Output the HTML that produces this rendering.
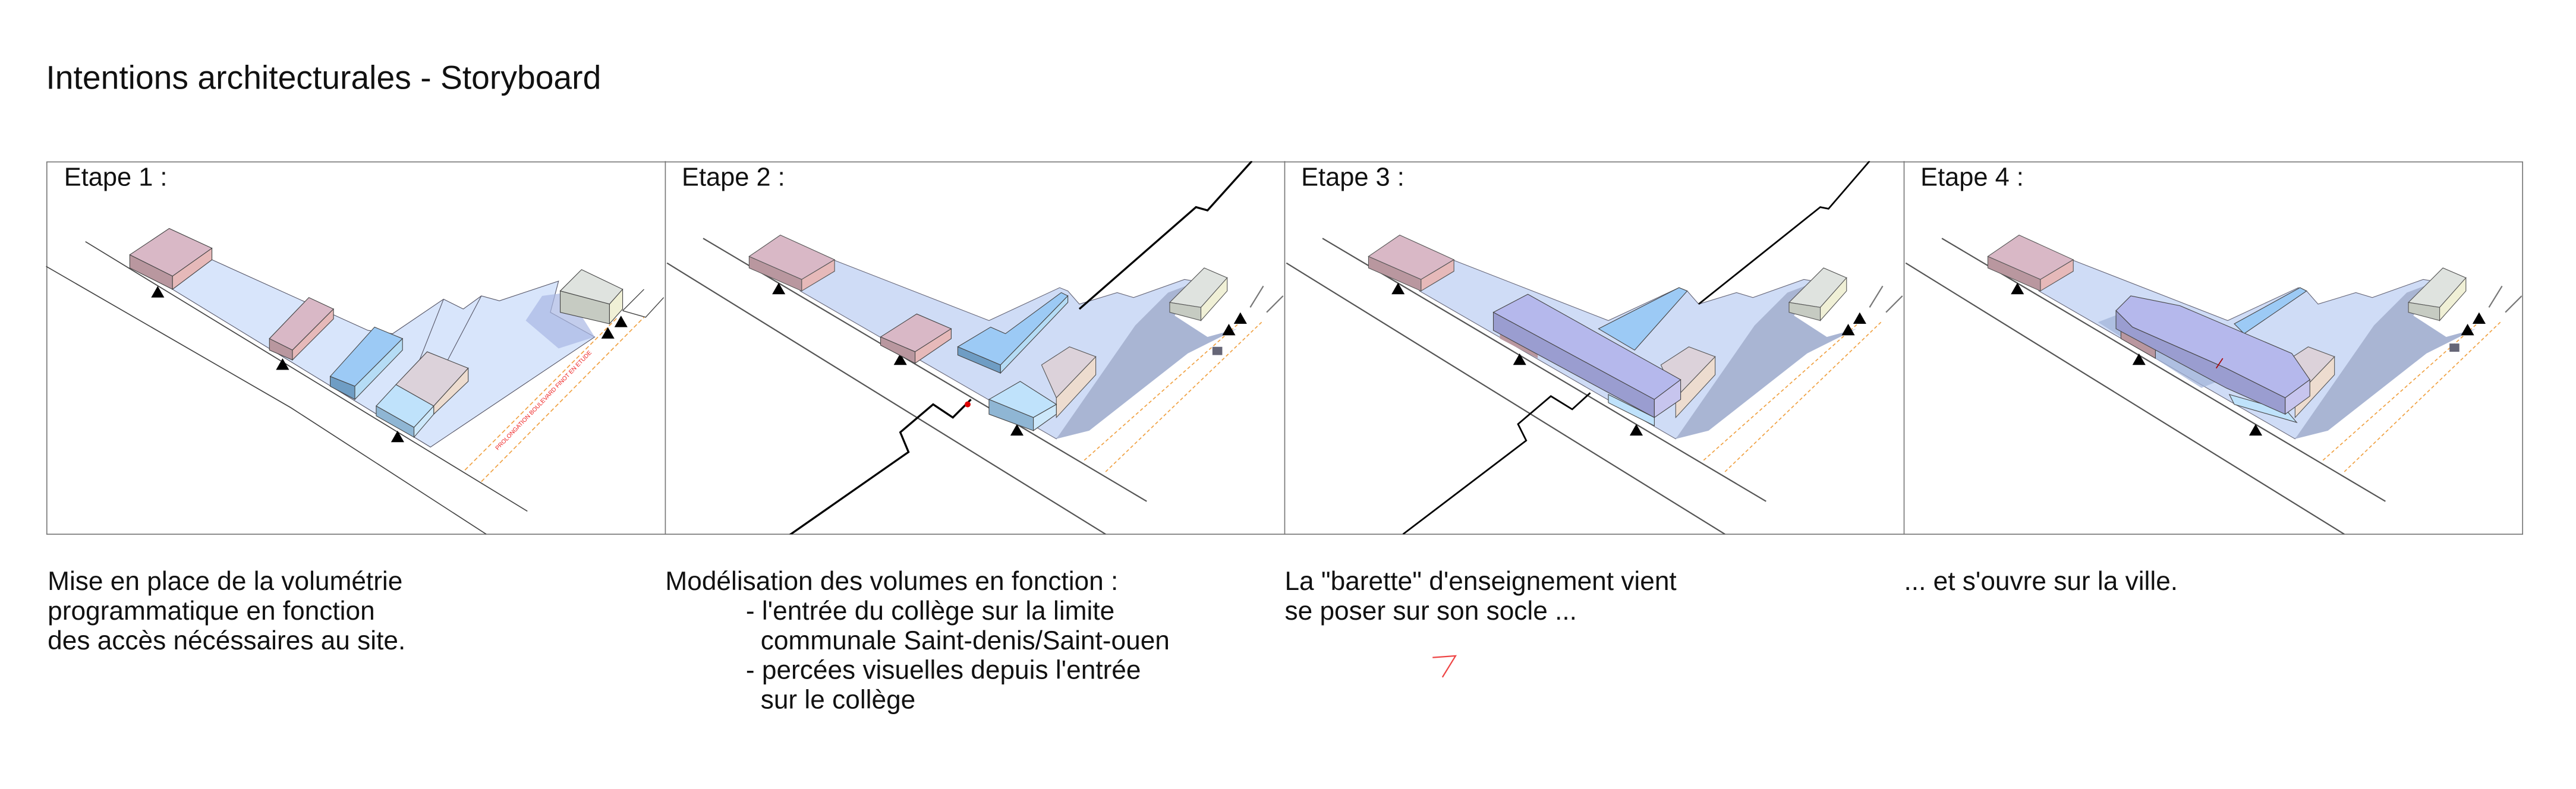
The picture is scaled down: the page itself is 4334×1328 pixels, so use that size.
<!DOCTYPE html>
<html><head><meta charset="utf-8"><style>
html,body{margin:0;padding:0;background:#fff;}
svg{display:block;}
text{font-family:"Liberation Sans",Arial,sans-serif;fill:#111;}
</style></head><body>
<svg width="4334" height="1328" viewBox="0 0 1568 480" preserveAspectRatio="none" xmlns="http://www.w3.org/2000/svg">
<defs>
<clipPath id="c1"><rect x="28" y="98" width="377" height="227"/></clipPath>
<clipPath id="c2"><rect x="405" y="98" width="377" height="227"/></clipPath>
<clipPath id="c3"><rect x="782" y="98" width="377" height="227"/></clipPath>
<clipPath id="c4"><rect x="1159" y="98" width="376" height="227"/></clipPath>
<g id="base">
  <polyline points="783,160 1050,325" fill="none" stroke="#555" stroke-width="0.8"/>
  <polyline points="805,145 1075,305" fill="none" stroke="#555" stroke-width="0.8"/>
  <polygon points="864,177 884,158 979,195 1022,175 1027,177 1034,185 1057,178 1067,181 1098,170 1110,172 1092,190 1020,267" fill="#cfdcf6" stroke="#667" stroke-width="0.4"/>
  <polygon points="1020,267 1068,198 1088,178 1104,172 1092,192 1112,205 1130,200 1100,215 1040,262" fill="#a9b5d3"/>
  <polygon points="833,156 852,143 885,158 865,170" fill="#d9b8c6" stroke="#555" stroke-width="0.4"/>
  <polygon points="833,156 865,170 865,177 833,163" fill="#b9979f" stroke="#555" stroke-width="0.4"/>
  <polygon points="865,170 885,158 885,165 865,177" fill="#e6b9b9" stroke="#555" stroke-width="0.4"/>
  <polygon points="1011,222 1028,211 1044,217 1020,242" fill="#dcd2da" stroke="#555" stroke-width="0.4"/>
  <polygon points="1020,242 1044,217 1044,228 1020,254" fill="#eddccf" stroke="#555" stroke-width="0.4"/>
  <polygon points="1089,184 1110,163 1124,169 1108,187" fill="#dfe3df" stroke="#555" stroke-width="0.4"/>
  <polygon points="1089,184 1108,187 1108,195 1089,190" fill="#c6cbc2" stroke="#555" stroke-width="0.4"/>
  <polygon points="1108,187 1124,169 1124,177 1108,195" fill="#f0f0d6" stroke="#555" stroke-width="0.4"/>
  <polyline points="1138,187 1146,174" fill="none" stroke="#777" stroke-width="0.8"/>
  <polyline points="1148,190 1158,180" fill="none" stroke="#777" stroke-width="0.8"/>
  <polyline points="1037,280 1133,195" fill="none" stroke="#f0a040" stroke-width="0.6" stroke-dasharray="2,1.5"/>
  <polyline points="1050,287 1146,195" fill="none" stroke="#f0a040" stroke-width="0.6" stroke-dasharray="2,1.5"/>
  <polygon points="847,179 855,179 851,172" fill="#000"/>
  <polygon points="921,222 929,222 925,215" fill="#000"/>
  <polygon points="992,265 1000,265 996,258" fill="#000"/>
  <polygon points="1128,197 1136,197 1132,190" fill="#000"/>
  <polygon points="1121,204 1129,204 1125,197" fill="#000"/>
</g>
</defs>

<text x="28" y="54" font-size="20">Intentions architecturales - Storyboard</text>

<rect x="28.5" y="98.5" width="1507" height="226.5" fill="none" stroke="#777" stroke-width="0.6"/>
<line x1="405" y1="98" x2="405" y2="325" stroke="#777" stroke-width="0.6"/>
<line x1="782" y1="98" x2="782" y2="325" stroke="#777" stroke-width="0.6"/>
<line x1="1159" y1="98" x2="1159" y2="325" stroke="#777" stroke-width="0.6"/>

<g clip-path="url(#c1)">
  <polyline points="28,162 177,248 296,325" fill="none" stroke="#444" stroke-width="0.6"/>
  <polyline points="52,147 321,311" fill="none" stroke="#444" stroke-width="0.6"/>
  <polygon points="105,176 129,158 224,201 239,203 270,182 282,188 293,180 304,183 340,171 335,190 362,205 262,272" fill="#d8e5fb" stroke="#556" stroke-width="0.4"/>
  <polygon points="320,195 330,180 345,178 362,205 340,212" fill="#aab8e4" opacity="0.7"/>
  <line x1="240" y1="258" x2="270" y2="182" stroke="#556" stroke-width="0.4"/>
  <line x1="250" y1="262" x2="293" y2="180" stroke="#556" stroke-width="0.4"/>
  <polygon points="79,155 103,139 129,151 105,168" fill="#d9b8c6" stroke="#444" stroke-width="0.4"/>
  <polygon points="79,155 105,168 105,176 79,163" fill="#b9979f" stroke="#444" stroke-width="0.4"/>
  <polygon points="105,168 129,151 129,158 105,176" fill="#e6b9b9" stroke="#444" stroke-width="0.4"/>
  <polygon points="164,206 188,181 203,188 178,213" fill="#d9b8c6" stroke="#444" stroke-width="0.4"/>
  <polygon points="164,206 178,213 178,219 164,213" fill="#b9979f" stroke="#444" stroke-width="0.4"/>
  <polygon points="178,213 203,188 203,194 178,219" fill="#e6b9b9" stroke="#444" stroke-width="0.4"/>
  <polygon points="201,229 228,199 245,206 216,235" fill="#9ccaf5" stroke="#444" stroke-width="0.4"/>
  <polygon points="201,229 216,235 216,243 201,235" fill="#6f9dc4" stroke="#444" stroke-width="0.4"/>
  <polygon points="216,235 245,206 245,213 216,243" fill="#b5dcf5" stroke="#444" stroke-width="0.4"/>
  <polygon points="241,234 260,214 285,224 264,247" fill="#dcd2da" stroke="#444" stroke-width="0.4"/>
  <polygon points="264,247 285,224 285,232 264,252" fill="#eddccf" stroke="#444" stroke-width="0.4"/>
  <polygon points="229,247 241,234 264,247 252,260" fill="#bfe2fb" stroke="#444" stroke-width="0.4"/>
  <polygon points="229,247 252,260 252,266 229,253" fill="#8fb6d4" stroke="#444" stroke-width="0.4"/>
  <polygon points="252,260 264,247 264,252 252,266" fill="#cde8fa" stroke="#444" stroke-width="0.4"/>
  <polygon points="341,177 354,164 379,176 371,185" fill="#dfe3df" stroke="#444" stroke-width="0.4"/>
  <polygon points="341,177 371,185 371,197 341,190" fill="#c6cbc2" stroke="#444" stroke-width="0.4"/>
  <polygon points="371,185 379,176 379,188 371,197" fill="#f0f0d6" stroke="#444" stroke-width="0.4"/>
  <polyline points="379,189 392,176" fill="none" stroke="#444" stroke-width="0.5"/>
  <polyline points="379,189 393,193 404,181" fill="none" stroke="#444" stroke-width="0.5"/>
  <polyline points="283,286 376,193" fill="none" stroke="#f0a040" stroke-width="0.6" stroke-dasharray="2.5,1.5"/>
  <polyline points="293,293 392,193" fill="none" stroke="#f0a040" stroke-width="0.6" stroke-dasharray="2.5,1.5"/>
  <text x="0" y="0" font-size="3.6" style="fill:#e22" transform="translate(303,274) rotate(-46)">PROLONGATION BOULEVARD FINOT EN ETUDE</text>
  <polygon points="92,181 100,181 96,174" fill="#000"/>
  <polygon points="168,225 176,225 172,218" fill="#000"/>
  <polygon points="238,269 246,269 242,262" fill="#000"/>
  <polygon points="366,206 374,206 370,199" fill="#000"/>
  <polygon points="374,199 382,199 378,192" fill="#000"/>
</g>
<text x="39" y="113" font-size="15.7">Etape 1 :</text>

<g clip-path="url(#c2)">
  <use href="#base" transform="translate(-377,0)"/>
  <polygon points="536,205 558,191 579,200 557,214" fill="#d9b8c6" stroke="#444" stroke-width="0.4"/>
  <polygon points="536,205 557,214 557,221 536,210" fill="#b9979f" stroke="#444" stroke-width="0.4"/>
  <polygon points="557,214 579,200 579,206 557,221" fill="#e6b9b9" stroke="#444" stroke-width="0.4"/>
  <polygon points="583,211 603,199 612,203 646,178 650,180 609,222" fill="#9ccaf5" stroke="#444" stroke-width="0.4"/>
  <polygon points="583,211 609,222 609,227 583,216" fill="#6f9dc4" stroke="#444" stroke-width="0.4"/>
  <polygon points="609,222 650,180 650,184 609,227" fill="#b5dcf5" stroke="#444" stroke-width="0.4"/>
  <polygon points="602,243 621,232 643,246 629,254" fill="#bfe2fb" stroke="#444" stroke-width="0.4"/>
  <polygon points="602,243 629,254 629,262 602,252" fill="#8fb6d4" stroke="#444" stroke-width="0.4"/>
  <polygon points="629,254 643,246 643,252 629,262" fill="#cde8fa" stroke="#444" stroke-width="0.4"/>
  <rect x="738" y="211" width="6" height="5" fill="#667"/>
  <polyline points="477,328 553,275 548,263 568,246 580,254 591,243" fill="none" stroke="#000" stroke-width="1.2"/>
  <polyline points="657,188 728,126 735,128 762,98" fill="none" stroke="#000" stroke-width="1.2"/>
  <circle cx="589" cy="246" r="1.8" fill="#d00"/>
</g>
<text x="415" y="113" font-size="15.7">Etape 2 :</text>

<g clip-path="url(#c3)">
  <use href="#base"/>
  <polygon points="913,202 936,214 936,218 913,206" fill="#b9979f"/>
  <polygon points="973,200 1022,175 1027,177 995,213" fill="#9ccaf5" stroke="#444" stroke-width="0.4"/>
  <polygon points="979,240 1007,254 1007,259 979,245" fill="#bfe2fb" stroke="#444" stroke-width="0.4"/>
  <polygon points="909,190 930,179 1023,231 1007,243" fill="#b5b8ec" stroke="#444" stroke-width="0.4"/>
  <polygon points="909,190 1007,243 1007,254 909,201" fill="#9a9dd0" stroke="#444" stroke-width="0.4"/>
  <polygon points="1007,243 1023,231 1023,243 1007,254" fill="#c7c5ee" stroke="#444" stroke-width="0.4"/>
  <polyline points="854,325 929,268 924,258 944,241 957,249 968,239" fill="none" stroke="#000" stroke-width="1"/>
  <polyline points="1034,185 1108,126 1113,127 1138,98" fill="none" stroke="#000" stroke-width="1"/>
</g>
<text x="792" y="113" font-size="15.7">Etape 3 :</text>

<g clip-path="url(#c4)">
  <use href="#base" transform="translate(377,0)"/>
  <polygon points="1277,196 1290,191 1360,228 1340,236" fill="#9fb2d8" opacity="0.7"/>
  <polygon points="1291,200 1312,211 1312,218 1291,206" fill="#b9979f" stroke="#444" stroke-width="0.4"/>
  <polygon points="1360,197 1400,175 1404,177 1366,203" fill="#9ccaf5" stroke="#444" stroke-width="0.4"/>
  <polygon points="1357,240 1392,250 1398,257 1360,246" fill="#bfe2fb" stroke="#444" stroke-width="0.4"/>
  <polygon points="1288,189 1297,180 1327,186 1395,215 1406,231 1391,242 1355,224 1298,199" fill="#b5b8ec" stroke="#444" stroke-width="0.4"/>
  <polygon points="1288,189 1298,199 1355,224 1391,242 1391,252 1355,236 1288,200" fill="#9a9dd0" stroke="#444" stroke-width="0.4"/>
  <polygon points="1391,242 1406,231 1406,241 1391,252" fill="#c7c5ee" stroke="#444" stroke-width="0.4"/>
  <rect x="1491" y="209" width="6" height="5" fill="#667"/>
  <line x1="1349" y1="224" x2="1353" y2="218" stroke="#a00" stroke-width="0.6"/>
</g>
<text x="1169" y="113" font-size="15.7">Etape 4 :</text>

<g font-size="16">
<text x="29" y="359">Mise en place de la volumétrie</text>
<text x="29" y="377">programmatique en fonction</text>
<text x="29" y="395">des accès nécéssaires au site.</text>

<text x="405" y="359">Modélisation des volumes en fonction :</text>
<text x="454" y="377">- l'entrée du collège sur la limite</text>
<text x="463" y="395">communale Saint-denis/Saint-ouen</text>
<text x="454" y="413">- percées visuelles depuis l'entrée</text>
<text x="463" y="431">sur le collège</text>

<text x="782" y="359">La "barette" d'enseignement vient</text>
<text x="782" y="377">se poser sur son socle ...</text>

<text x="1159" y="359">... et s'ouvre sur la ville.</text>
</g>
<polyline points="872,400 886,399 878,412" fill="none" stroke="#e44" stroke-width="0.8"/>
</svg>
</body></html>
